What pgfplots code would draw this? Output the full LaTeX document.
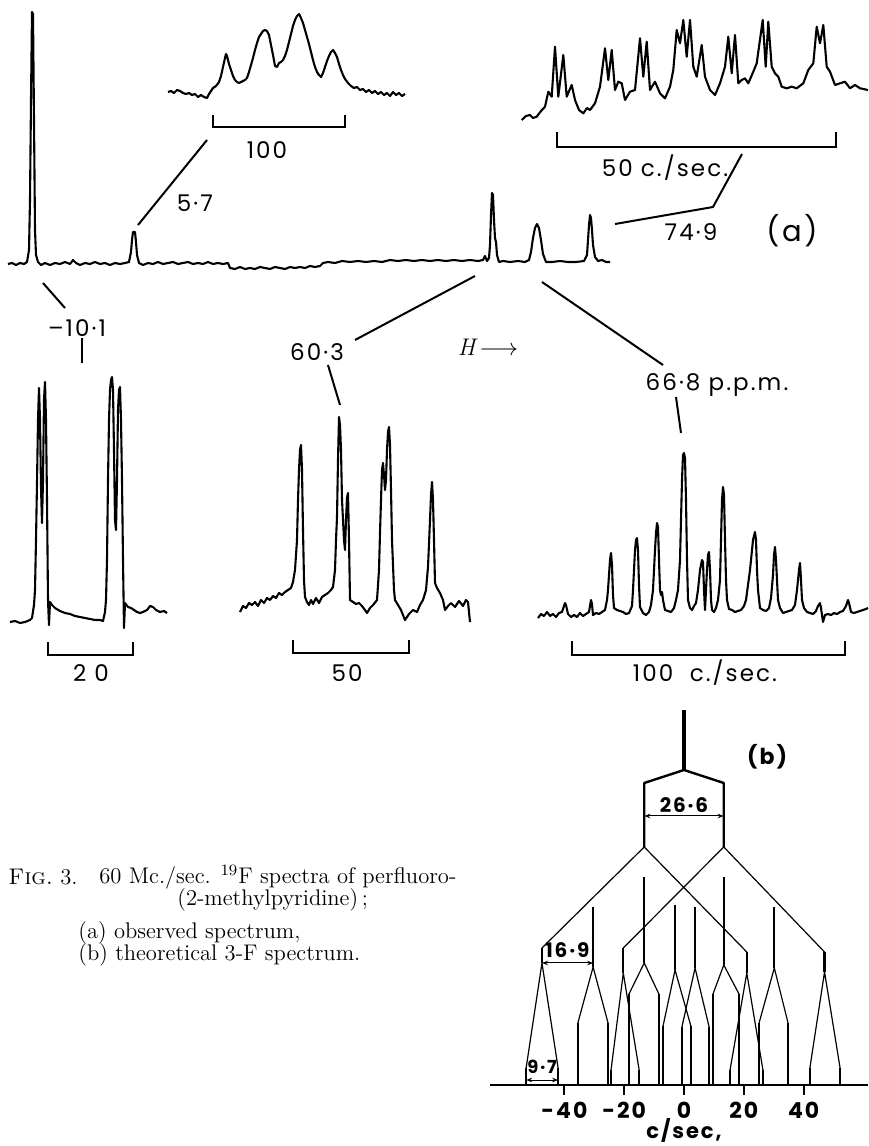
\documentclass[border=0pt]{standalone}
\usepackage{fontspec}
\usepackage{pgfplots}
\pgfplotsset{compat=1.18}
\usetikzlibrary{arrows.meta}
\newfontfamily\hand{Poppins}[LetterSpace=9]
\tikzset{
  lab/.style={font=\hand\fontsize{11.5}{12}\selectfont, inner sep=0pt},
  captxt/.style={font=\fontsize{11.3}{13}\selectfont, inner sep=0pt, anchor=west},
}
\pgfplotsset{
  tr/.style={black, line width=1.05pt, line join=round},
  ld/.style={black, line width=1pt},
  thn/.style={black, line width=0.6pt, line join=round},
  thk/.style={black, line width=1.1pt, unbounded coords=jump},
}
\begin{document}
\begin{tikzpicture}
\useasboundingbox (0,0) rectangle (434pt,573pt);
% ---------------- (a): pixel frame, row counted from the top ----------------
\begin{axis}[at={(0,0)}, anchor=south west, scale only axis,
  width=434pt, height=573pt, xmin=0, xmax=868, ymin=0, ymax=1146,
  y dir=reverse, hide axis, clip=false]
% main spectrum
\addplot[tr] coordinates {(8,264)(12,263)(16,265)(20,263)(24,264)(27,262)(29,250)(30,200)(31,100)(32,12)(33,14)(34,120)(35,230)(36,255)(38,262)(41,265)(45,263)(50,265)(55,263)(60,264)(65,262)(70,264)(73,260)(76,263)(80,265)(85,263)(90,264)(95,262)(100,264)(105,263)(110,265)(115,263)(120,264)(125,263)(129,262)(131,252)(132,240)(133,232)(135,232)(136,242)(137,255)(139,263)(143,265)(148,263)(153,264)(158,262)(163,264)(168,263)(173,262)(178,264)(183,263)(188,262)(193,264)(198,263)(203,264)(208,262)(213,264)(218,263)(223,264)(228,263)(230,268)(235,269)(240,267)(245,269)(250,268)(255,269)(260,267)(265,268)(270,269)(275,267)(280,268)(285,269)(290,267)(295,268)(300,267)(305,268)(310,266)(315,267)(320,266)(323,263)(328,262)(335,263)(342,261)(350,262)(358,261)(366,262)(374,261)(382,262)(390,260)(398,261)(406,260)(414,261)(422,260)(430,261)(438,260)(446,261)(454,260)(462,261)(470,260)(478,261)(483,260)(485,256)(487,261)(489,258)(490,245)(491,215)(492,193)(493,195)(494,220)(495,238)(496,242)(497,255)(499,262)(503,261)(510,262)(518,261)(525,262)(529,260)(531,252)(533,238)(535,228)(537,224)(539,228)(541,240)(543,254)(546,262)(552,262)(560,261)(568,262)(576,262)(584,261)(587,255)(588,240)(589,225)(590,215)(591,218)(592,230)(593,245)(595,257)(598,261)(602,260)(606,262)(610,262)};
% inset 5.7
\addplot[tr] coordinates {(168,92)(171,91)(174,93)(177,90)(180,91)(183,93)(186,94)(189,93)(192,95)(195,94)(198,97)(201,95)(204,97)(207,98)(209,94)(211,91)(213,88)(216,86)(219,82)(221,76)(223,67)(225,58)(226,54)(227,56)(229,64)(231,70)(233,76)(235,80)(237,82)(239,83)(241,82)(243,81)(245,80)(247,78)(249,72)(251,65)(253,58)(255,50)(257,43)(259,37)(261,34)(263,31)(265,30)(267,31)(269,35)(271,45)(273,55)(275,66)(277,67)(279,63)(281,62)(283,60)(285,56)(287,50)(289,42)(291,34)(293,26)(295,20)(297,16)(299,14)(301,18)(303,23)(305,30)(307,37)(309,44)(311,52)(313,60)(315,67)(317,72)(319,75)(321,77)(323,73)(325,67)(327,61)(329,56)(331,52)(333,50)(335,53)(337,57)(339,64)(341,70)(343,75)(345,79)(348,83)(351,86)(354,88)(357,87)(360,90)(363,89)(366,92)(369,90)(372,93)(375,91)(378,94)(381,92)(384,95)(387,93)(390,96)(393,92)(396,95)(399,93)(402,96)(405,94)};
\addplot[ld] coordinates {(213,115)(213,127)(345,127)(345,115)};
\node[lab] at (axis cs:267,150) {100};
\addplot[ld] coordinates {(207,140)(138,225)};
\node[lab] at (axis cs:195,203) {5·7};
% inset 74.9
\addplot[tr] coordinates {(521.7,120)(526,116)(530,115)(533,118)(536.7,116.7)(541,111)(545,106.7)(548.3,91.7)(551.7,96.7)(555,46.7)(558.3,96.7)(563.3,55)(566.7,96.7)(571.7,85)(575,100)(579,110)(583.3,113.3)(587,108)(590,110)(595,103.3)(600,86.7)(605,48.3)(608.3,80)(611.7,50)(615,90)(618.3,81.7)(621.7,83.3)(625,100)(630,91.7)(635,90)(640,38.3)(643.3,76.7)(646.7,41.7)(650,90)(655,81.7)(660,93.3)(665,98.3)(670,86.7)(673.3,70)(676.7,30)(680,43.3)(683.3,20)(686.7,56.7)(690,20)(693.3,66.7)(696.7,76.7)(701.7,45)(705,76.7)(710,90)(715,95)(720,83.3)(725,66.7)(728.3,36.7)(731.7,73.3)(735,35)(738.3,83.3)(741.7,80)(745,78.3)(748.3,83.3)(753.3,71.7)(756.7,63.3)(762.7,20)(765.7,66.7)(768.3,21.7)(771.7,66.7)(775,73.3)(778.3,76.7)(781.7,86.7)(786.7,88.3)(791.7,86.7)(796.7,88.3)(803.3,83.3)(808.3,70)(813.3,63.3)(816.7,26.7)(820,43.3)(823.3,25)(826.7,66.7)(830,71.7)(835,85)(840,83.3)(845,81.7)(850,88.3)(855,85)(860,88.3)(868,90)};
\addplot[ld] coordinates {(557,132)(557,147)(836,147)(836,132)};
\node[lab] at (axis cs:665,168) {50 c./sec.};
\addplot[ld] coordinates {(742,154)(713,207)(615,224)};
\node[lab] at (axis cs:691,232) {74·9};
\node[lab, font=\hand\fontsize{14.5}{14.5}\selectfont] at (axis cs:792,231) {(a)};
% leaders to the expanded spectra
\addplot[ld] coordinates {(43,283)(65,308)};
\node[lab] at (axis cs:77,328) {–10·1};
\addplot[ld] coordinates {(82,338)(82,363)};
\addplot[ld] coordinates {(475,276)(355,340)};
\node[lab] at (axis cs:317,352) {60·3};
\addplot[ld] coordinates {(328,365)(340,405)};
\addplot[ld] coordinates {(542,282)(663,365)};
\node[lab] at (axis cs:717,385) {66·8 p.p.m.};
\addplot[ld] coordinates {(676,397)(681,433)};
\node[lab, font=\fontsize{12}{12}\selectfont] at (axis cs:488,347) {\itshape H\,$\longrightarrow$};
% expanded -10.1
\addplot[tr] coordinates {(10,622)(15,621)(20,623)(25,622)(30,620)(32,618)(34,605)(35,590)(36,540)(37,483)(38,420)(39,388)(40,420)(41,487)(42,523)(43,480)(44,400)(45,382)(46,420)(47,500)(48,600)(49,625)(50,602)(52,605)(55,608)(60,611)(65,613)(70,614)(75,616)(80,617)(85,618)(90,619)(95,620)(100,620)(103,621)(105,612)(106,600)(107,560)(108,480)(109,420)(110,390)(111,380)(112,377)(113,390)(114,450)(115,520)(116,530)(117,480)(118,410)(119,390)(120,387)(121,420)(122,480)(123,560)(124,628)(125,603)(128,607)(131,608)(134,610)(137,612)(140,613)(143,612)(147,610)(150,606)(153,607)(156,610)(160,612)(164,611)(167,613)};
\addplot[ld] coordinates {(48,642)(48,655)(133,655)(133,642)};
\node[lab] at (axis cs:91,673) {2 0};
% expanded 60.3
\addplot[tr] coordinates {(240,612)(243,606)(246,608)(249,603)(252,605)(255,602)(258,606)(261,600)(264,603)(267,598)(270,600)(273,596)(276,598)(279,593)(282,595)(285,592)(288,590)(291,588)(293,582)(295,570)(297,540)(298,500)(299,470)(300,450)(301,445)(302,470)(303,530)(304,580)(305,597)(307,602)(309,605)(311,600)(313,604)(316,598)(319,603)(322,597)(325,595)(328,593)(331,590)(333,587)(335,570)(336,540)(337,517)(338,460)(339,417)(340,425)(341,450)(342,500)(344,540)(345,550)(346,520)(347,498)(348,493)(349,540)(350,600)(353,602)(356,604)(359,603)(362,606)(365,610)(367,613)(370,608)(373,605)(377,600)(379,570)(380,533)(381,500)(382,470)(383,463)(384,475)(385,490)(386,480)(387,450)(388,432)(389,427)(390,445)(391,490)(392,540)(394,590)(395,600)(398,605)(401,610)(405,620)(409,614)(413,610)(417,612)(420,605)(423,600)(426,590)(428,567)(430,520)(431,495)(432,482)(433,500)(434,540)(435,583)(437,588)(440,593)(443,600)(445,610)(448,606)(451,603)(455,607)(459,601)(463,606)(466,600)(468,602)(470,622)};
\addplot[ld] coordinates {(293,640)(293,653)(409,653)(409,640)};
\node[lab] at (axis cs:347,673) {50};
% expanded 66.8
\addplot[tr] coordinates {(538,618)(541,614)(544,616)(547,612)(550,616)(553,614)(556,617)(559,613)(562,612)(564,606)(565,603)(566,605)(568,614)(571,617)(574,615)(577,617)(580,613)(583,616)(586,614)(589,612)(590,606)(591,600)(592,604)(593,615)(596,613)(599,614)(602,612)(605,610)(607,600)(608,590)(609,575)(610,560)(611,553)(612,565)(613,595)(614,608)(617,610)(620,611)(623,612)(626,614)(629,613)(632,606)(633,590)(634,570)(635,550)(636,540)(637,538)(638,550)(639,585)(640,607)(643,613)(646,615)(649,612)(651,605)(653,590)(654,570)(655,550)(656,533)(657,523)(658,527)(659,560)(660,590)(661,595)(662,592)(663,600)(665,610)(668,611)(671,612)(674,608)(676,600)(678,590)(680,560)(681,520)(682,480)(683,455)(684,453)(685,458)(686,500)(687,560)(688,600)(690,608)(692,610)(694,606)(696,603)(698,590)(700,570)(702,560)(703,562)(704,590)(705,610)(706,590)(707,570)(708,555)(709,552)(710,570)(711,600)(712,610)(714,612)(716,608)(718,600)(720,580)(721,540)(722,500)(723,487)(724,495)(725,540)(726,580)(727,600)(729,609)(732,610)(735,612)(738,611)(741,610)(744,606)(746,600)(748,585)(750,570)(752,550)(753,540)(755,532)(756,540)(757,570)(758,590)(760,608)(763,610)(766,611)(769,608)(771,598)(773,575)(774,555)(775,547)(776,560)(777,580)(778,600)(780,608)(783,613)(786,612)(789,611)(792,610)(795,605)(797,590)(799,570)(800,563)(801,580)(802,600)(804,608)(807,612)(810,613)(813,614)(816,611)(818,606)(820,603)(821,608)(823,622)(825,615)(828,614)(831,615)(834,613)(837,614)(840,612)(843,611)(846,606)(848,600)(849,603)(851,612)(854,613)(857,612)(860,611)(863,610)(866,609)(868,608)};
\addplot[ld] coordinates {(572,641)(572,655)(845,655)(845,641)};
\node[lab] at (axis cs:705,673) {100 \ c./sec.};
% caption
\node[captxt] at (axis cs:8,877) {\textsc{Fig.}~3.};
\node[captxt] at (axis cs:99,877) {60 Mc./sec. \textsuperscript{19}F spectra of perfluoro-};
\node[captxt] at (axis cs:177,900) {(2-methylpyridine)\,;};
\node[captxt] at (axis cs:78,933) {(a) observed spectrum,};
\node[captxt] at (axis cs:78,955) {(b) theoretical 3-F spectrum.};
\end{axis}
% ---------------- (b): stick diagram, x in c/sec ----------------
\begin{axis}[at={(245pt,30.5pt)}, anchor=south west, scale only axis,
  width=189pt, height=192.5pt, xmin=-64.88, xmax=61.54, ymin=61, ymax=446,
  axis x line*=bottom, axis y line=none, clip=false,
  x axis line style={line width=1pt},
  xtick={-40,-20,0,20,40}, xticklabels={-40,-20,0,20,40},
  tick align=outside, major tick length=5pt,
  xtick style={black, line width=1pt},
  xticklabel style={font=\hand\bfseries\fontsize{11}{11}\selectfont}]
% first splitting (26.6)
\addplot[black, line width=1.6pt] coordinates {(0,436)(0,376)};
\addplot[black, line width=1.2pt, line join=round] coordinates {(-13.3,299)(-13.3,363)(0,376)(13.3,363)(13.3,299)};
\addplot[black, line width=0.5pt, {Stealth[length=3pt]}-{Stealth[length=3pt]}] coordinates {(-13.3,330)(13.3,330)};
\node[font=\hand\bfseries\fontsize{10}{10}\selectfont, inner sep=0pt] at (axis cs:0,341) {26·6};
\node[font=\hand\bfseries\fontsize{11}{11}\selectfont, inner sep=0pt] at (axis cs:27.8,389) {(b)};
% second splitting
\addplot[thn] coordinates {(-47.5,198)(-13.3,299)(21.0,194)};
\addplot[thn] coordinates {(-20.3,198)(13.3,299)(47.0,194)};
% third-level lines (top -> node)
\addplot[thk] coordinates {(-47.5,198)(-47.5,183)(nan,nan)(-30.4,239)(-30.4,179)(nan,nan)(-20.3,198)(-20.3,173)(nan,nan)(-13.3,269)(-13.3,183)(nan,nan)(-3.0,241)(-3.0,176)(nan,nan)(3.7,239)(3.7,178)(nan,nan)(13.3,269)(13.3,181)(nan,nan)(21.0,194)(21.0,173)(nan,nan)(30.2,239)(30.2,178)(nan,nan)(47.0,194)(47.0,174)};
% last splitting (9.7), diagonals
\addplot[thn] coordinates {(-52.8,78)(-47.5,183)(-42.1,78)};
\addplot[thn] coordinates {(-35.5,123)(-30.4,179)(-25.4,123)};
\addplot[thn] coordinates {(-24.4,76)(-20.3,173)(-15.0,76)};
\addplot[thn] coordinates {(-18.4,152)(-13.3,183)(-8.4,152)};
\addplot[thn] coordinates {(-7.0,120)(-3.0,176)(2.3,120)};
\addplot[thn] coordinates {(-0.7,119)(3.7,178)(8.4,119)};
\addplot[thn] coordinates {(9.7,152)(13.3,181)(18.4,152)};
\addplot[thn] coordinates {(15.4,76)(21.0,173)(26.4,76)};
\addplot[thn] coordinates {(25.1,123)(30.2,178)(34.8,123)};
\addplot[thn] coordinates {(42.1,78)(47.0,174)(52.2,78)};
% final lines down to the axis
\addplot[thk] coordinates {(-52.8,78)(-52.8,61)(nan,nan)(-42.1,78)(-42.1,61)(nan,nan)(-35.5,123)(-35.5,61)(nan,nan)(-25.4,123)(-25.4,61)(nan,nan)(-24.4,76)(-24.4,61)(nan,nan)(-15.0,76)(-15.0,61)(nan,nan)(-18.4,152)(-18.4,61)(nan,nan)(-8.4,152)(-8.4,61)(nan,nan)(-7.0,120)(-7.0,61)(nan,nan)(2.3,120)(2.3,61)(nan,nan)(-0.7,119)(-0.7,61)(nan,nan)(8.4,119)(8.4,61)(nan,nan)(9.7,152)(9.7,61)(nan,nan)(18.4,152)(18.4,61)(nan,nan)(15.4,76)(15.4,61)(nan,nan)(26.4,76)(26.4,61)(nan,nan)(25.1,123)(25.1,61)(nan,nan)(34.8,123)(34.8,61)(nan,nan)(42.1,78)(42.1,61)(nan,nan)(52.2,78)(52.2,61)};
% coupling marks 16.9 and 9.7
\addplot[black, line width=0.5pt, {Stealth[length=3pt]}-{Stealth[length=3pt]}] coordinates {(-47.5,183)(-30.4,183)};
\node[font=\hand\bfseries\fontsize{10}{10}\selectfont, inner sep=0pt] at (axis cs:-39,196) {16·9};
\addplot[black, line width=0.5pt, {Stealth[length=3pt]}-{Stealth[length=3pt]}] coordinates {(-52.8,66)(-42.1,66)};
\node[font=\hand\bfseries\fontsize{9}{9}\selectfont, inner sep=0pt] at (axis cs:-47.5,79) {9·7};
\node[font=\hand\bfseries\fontsize{10.5}{10.5}\selectfont, inner sep=0pt] at (axis cs:0,16) {c/sec,};
\end{axis}
\end{tikzpicture}
\end{document}
